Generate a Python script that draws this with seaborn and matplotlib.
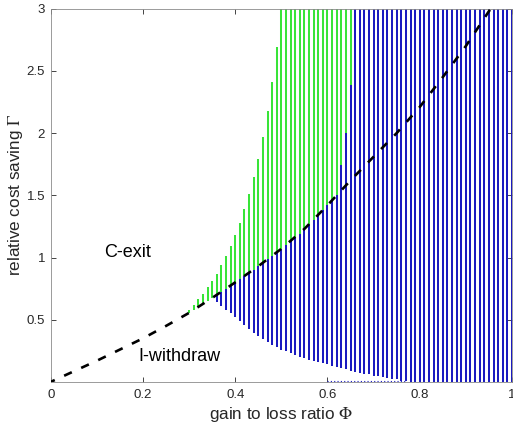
import numpy as np
import pandas as pd
import matplotlib
matplotlib.use("Agg")
import matplotlib.pyplot as plt
import seaborn as sns

# ---- data -------------------------------------------------------------
# boundary between C-exit and I-withdraw (dashed curve)
boundary_phi = [0.0, 0.05, 0.10, 0.15, 0.20, 0.25, 0.30, 0.35, 0.40, 0.45,
                0.50, 0.55, 0.60, 0.65, 0.70, 0.75, 0.80, 0.85, 0.90, 0.95, 0.965]
boundary_gamma = [0.0, 0.085, 0.17, 0.26, 0.35, 0.45, 0.555, 0.675, 0.80, 0.93,
                  1.07, 1.23, 1.42, 1.62, 1.81, 2.00, 2.21, 2.45, 2.70, 2.98, 3.05]

# green region: vertical segments (phi, lower gamma, upper gamma)
green_phi = [0.30, 0.31, 0.32, 0.33, 0.34, 0.35, 0.36, 0.37, 0.38, 0.39,
             0.40, 0.41, 0.42, 0.43, 0.44, 0.45, 0.46, 0.47, 0.48, 0.49,
             0.50, 0.51, 0.52, 0.53, 0.54, 0.55, 0.56, 0.57, 0.58, 0.59,
             0.60, 0.61, 0.62, 0.63, 0.64, 0.65]
green_lo = [0.555, 0.58, 0.605, 0.63, 0.65, 0.675, 0.70, 0.725, 0.75, 0.775,
            0.80, 0.825, 0.85, 0.875, 0.90, 0.93, 0.955, 0.985, 1.01, 1.04,
            1.07, 1.10, 1.13, 1.16, 1.19, 1.23, 1.27, 1.30, 1.34, 1.38,
            1.42, 1.46, 1.50, 1.74, 2.00, 2.39]
green_hi = [0.575, 0.62, 0.67, 0.71, 0.76, 0.81, 0.87, 0.94, 1.01, 1.09,
            1.18, 1.28, 1.39, 1.51, 1.65, 1.79, 1.97, 2.18, 2.41, 2.69,
            3.0, 3.0, 3.0, 3.0, 3.0, 3.0, 3.0, 3.0, 3.0, 3.0,
            3.0, 3.0, 3.0, 3.0, 3.0, 3.0]

# blue region: vertical segments (phi, lower gamma, upper gamma)
blue_phi = [0.36, 0.37, 0.38, 0.39, 0.40, 0.41, 0.42, 0.43, 0.44, 0.45,
            0.46, 0.47, 0.48, 0.49, 0.50, 0.51, 0.52, 0.53, 0.54, 0.55,
            0.56, 0.57, 0.58, 0.59, 0.60, 0.61, 0.62, 0.63, 0.64, 0.65,
            0.66, 0.67, 0.68, 0.69, 0.70, 0.71, 0.72, 0.73, 0.74, 0.75,
            0.76, 0.77, 0.78, 0.79, 0.80, 0.81, 0.82, 0.83, 0.84, 0.85,
            0.86, 0.87, 0.88, 0.89, 0.90, 0.91, 0.92, 0.93, 0.94, 0.95,
            0.96, 0.97, 0.98, 0.99, 1.00]
blue_lo = [0.64, 0.61, 0.58, 0.55, 0.52, 0.49, 0.455, 0.425, 0.395, 0.37,
           0.345, 0.32, 0.30, 0.28, 0.26, 0.245, 0.23, 0.215, 0.20, 0.19,
           0.18, 0.17, 0.16, 0.15, 0.14, 0.13, 0.12, 0.11, 0.10, 0.09,
           0.08, 0.075, 0.065, 0.06, 0.05, 0.045, 0.04, 0.03, 0.025, 0.02,
           0.01, 0.005, 0.0, 0.0, 0.0, 0.0, 0.0, 0.0, 0.0, 0.0,
           0.0, 0.0, 0.0, 0.0, 0.0, 0.0, 0.0, 0.0, 0.0, 0.0,
           0.0, 0.0, 0.0, 0.0, 0.0]
blue_hi = [0.70, 0.725, 0.75, 0.775, 0.80, 0.825, 0.85, 0.875, 0.90, 0.93,
           0.955, 0.985, 1.01, 1.04, 1.07, 1.10, 1.13, 1.16, 1.19, 1.23,
           1.27, 1.30, 1.34, 1.38, 1.42, 1.46, 1.50, 1.74, 2.00, 2.39,
           3.0, 3.0, 3.0, 3.0, 3.0, 3.0, 3.0, 3.0, 3.0, 3.0,
           3.0, 3.0, 3.0, 3.0, 3.0, 3.0, 3.0, 3.0, 3.0, 3.0,
           3.0, 3.0, 3.0, 3.0, 3.0, 3.0, 3.0, 3.0, 3.0, 3.0,
           3.0, 3.0, 3.0, 3.0, 3.0]

x_ticks = [0, 0.2, 0.4, 0.6, 0.8, 1.0]
x_ticklabels = ["0", "0.2", "0.4", "0.6", "0.8", "1"]
y_ticks = [0.5, 1.0, 1.5, 2.0, 2.5, 3.0]
y_ticklabels = ["0.5", "1", "1.5", "2", "2.5", "3"]

# ---- style ------------------------------------------------------------
sns.set_style("ticks")
plt.rcParams["font.family"] = ["Liberation Sans", "DejaVu Sans"]
plt.rcParams["mathtext.fontset"] = "stix"

BLUE = "#1a1ac0"
GREEN = "#38e438"
AXCOL = "#262626"

fig = plt.figure(figsize=(5.13, 4.28), dpi=100)
ax = fig.add_axes([50.7 / 513, 1 - 381.9 / 428, (512 - 50.7) / 513, (381.9 - 8.7) / 428])

ax.vlines(green_phi, green_lo, green_hi, colors=GREEN, linewidth=1.45, zorder=2)
ax.vlines(blue_phi, blue_lo, blue_hi, colors=BLUE, linewidth=1.45, zorder=2)
ax.plot([0.60, 0.77], [0.006, 0.006], color=BLUE, lw=0.8, ls=(0, (1, 2)),
        zorder=2, clip_on=False)

curve = pd.DataFrame({"phi": boundary_phi, "gamma": boundary_gamma})
sns.lineplot(data=curve, x="phi", y="gamma", ax=ax, color="black", lw=1.9,
             linestyle=(1.5, (3.2, 3.9)), sort=False, zorder=3)

ax.text(0.167, 1.04, "C-exit", ha="center", va="center", fontsize=13, color="black")
ax.text(0.278, 0.205, "I-withdraw", ha="center", va="center", fontsize=13, color="black")

ax.set_xlim(0, 1)
ax.set_ylim(0, 3)
ax.set_xticks(x_ticks)
ax.set_xticklabels(x_ticklabels)
ax.set_yticks(y_ticks)
ax.set_yticklabels(y_ticklabels)
ax.tick_params(direction="in", length=3.5, width=0.6, colors=AXCOL,
               labelsize=9.5, top=True, right=True)
ax.tick_params(axis="x", pad=5)
ax.tick_params(axis="y", pad=4)
for s in ax.spines.values():
    s.set_visible(True)
    s.set_linewidth(0.6)
    s.set_color("#8a8a8a")

ax.set_xlabel(r"gain to loss ratio $\Phi$", fontsize=12.3, color=AXCOL, labelpad=3)
ax.set_ylabel(r"relative cost saving $\Gamma$", fontsize=12.3, color=AXCOL, labelpad=1)

fig.savefig("out.png", dpi=100)
